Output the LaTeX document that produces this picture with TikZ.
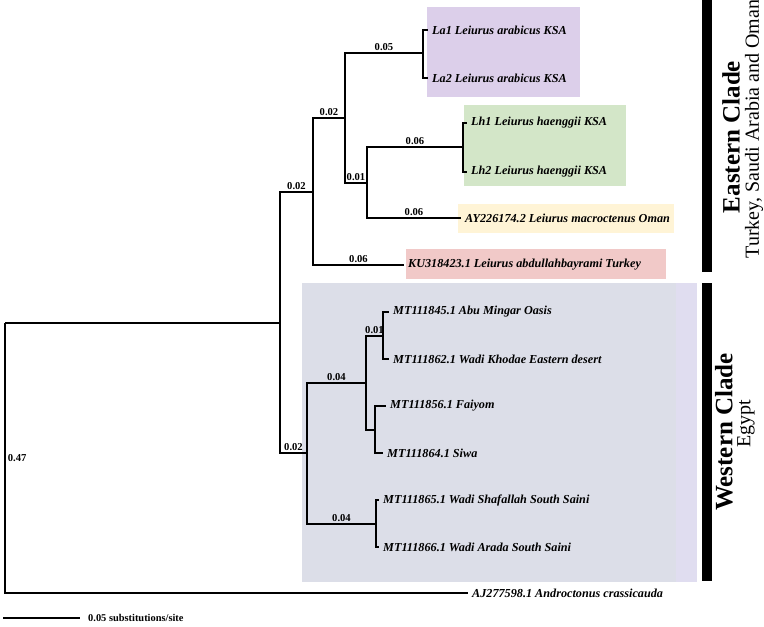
\documentclass[tikz,border=0pt]{standalone}
\usepackage{fontspec}
\setmainfont{Liberation Serif}
\usetikzlibrary{positioning}
\definecolor{lilac}{RGB}{220,207,234}
\definecolor{sage}{RGB}{211,230,200}
\definecolor{cream}{RGB}{255,244,214}
\definecolor{rose}{RGB}{241,201,200}
\definecolor{slate}{RGB}{220,222,232}
\definecolor{slatelav}{RGB}{224,221,240}

\begin{document}
\begin{tikzpicture}[x=1pt,y=-1pt,
  branch/.style={line width=1.6pt},
  leaf/.style={anchor=west,inner xsep=4pt,inner ysep=0pt,font=\fontsize{12.2}{14}\selectfont\bfseries\itshape},
  blen/.style={inner sep=2pt,font=\fontsize{10.6}{12}\selectfont\bfseries},
  barlabel/.style={inner sep=0pt,font=\fontsize{10.4}{12}\selectfont\bfseries},
  clade/.style={rotate=90,inner sep=0pt,font=\fontsize{25}{30}\selectfont\bfseries},
  region/.style={rotate=90,inner sep=0pt,font=\fontsize{20}{24}\selectfont}]
  \useasboundingbox (0,0) rectangle (764,627);

  % shaded groups
  \fill[slate] (302,283) rectangle (697,582);
  \fill[slatelav] (676,283) rectangle (697,582);
  \fill[lilac] (427,7) rectangle (580,97);
  \fill[sage] (464,105) rectangle (626,186);
  \fill[cream] (458,204) rectangle (674,233);
  \fill[rose] (406,249) rectangle (666,279);

  % internal nodes
  \coordinate (root) at (5,323);
  \coordinate (leiurus) at (280,323);
  \coordinate (east) at (313,192);
  \coordinate (arabhaen) at (345,118);
  \coordinate (arab) at (423,53);
  \coordinate (haenmacr) at (367,183);
  \coordinate (haen) at (463,147);
  \coordinate (west) at (307,453);
  \coordinate (westA) at (366,383);
  \coordinate (westAa) at (383,336);
  \coordinate (westAb) at (375,430);
  \coordinate (westB) at (376,524);

  % leaves
  \node[leaf] (La1) at (428,30) {La1 Leiurus arabicus KSA};
  \node[leaf] (La2) at (428,78) {La2 Leiurus arabicus KSA};
  \node[leaf] (Lh1) at (467,123) {Lh1 Leiurus haenggii KSA};
  \node[leaf] (Lh2) at (467,172) {Lh2 Leiurus haenggii KSA};
  \node[leaf] (macro) at (461,218) {AY226174.2 Leiurus macroctenus Oman};
  \node[leaf] (abdul) at (404,265) {KU318423.1 Leiurus abdullahbayrami Turkey};
  \node[leaf] (abu) at (389,312) {MT111845.1 Abu Mingar Oasis};
  \node[leaf] (khodae) at (389,359) {MT111862.1 Wadi Khodae Eastern desert};
  \node[leaf] (faiyom) at (386,406) {MT111856.1 Faiyom};
  \node[leaf] (siwa) at (383,453) {MT111864.1 Siwa};
  \node[leaf] (shafallah) at (379,500) {MT111865.1 Wadi Shafallah South Saini};
  \node[leaf] (arada) at (379,547) {MT111866.1 Wadi Arada South Saini};
  \node[leaf] (andro) at (468,593) {AJ277598.1 Androctonus crassicauda};

  % branches
  \draw[branch] (root) -- (leiurus);
  \draw[branch] (root) |- node[blen,right,pos=0.25] (b047) {0.47} (andro.west);
  \draw[branch] (leiurus) |- node[blen,above,pos=0.75] (bEast) {0.02} (east);
  \draw[branch] (leiurus) |- node[blen,above,pos=0.75] (bWest) {0.02} (west);
  \draw[branch] (east) |- node[blen,above,pos=0.75] (bAH) {0.02} (arabhaen);
  \draw[branch] (east) |- node[blen,above,pos=0.75] (bAbdul) {0.06} (abdul.west);
  \draw[branch] (arabhaen) |- node[blen,above,pos=0.75] (bArab) {0.05} (arab);
  \draw[branch] (arabhaen) |- node[blen,above,pos=0.75] (bHM) {0.01} (haenmacr);
  \draw[branch] (arab) |- (La1.west);
  \draw[branch] (arab) |- (La2.west);
  \draw[branch] (haenmacr) |- node[blen,above,pos=0.75] (bHaen) {0.06} (haen);
  \draw[branch] (haenmacr) |- node[blen,above,pos=0.75] (bMacro) {0.06} (macro.west);
  \draw[branch] (haen) |- (Lh1.west);
  \draw[branch] (haen) |- (Lh2.west);
  \draw[branch] (west) |- node[blen,above,pos=0.75] (bWA) {0.04} (westA);
  \draw[branch] (west) |- node[blen,above,pos=0.75] (bWB) {0.04} (westB);
  \draw[branch] (westA) |- node[blen,above,pos=0.75] (bWAa) {0.01} (westAa);
  \draw[branch] (westA) |- (westAb);
  \draw[branch] (westAa) |- (abu.west);
  \draw[branch] (westAa) |- (khodae.west);
  \draw[branch] (westAb) |- (faiyom.west);
  \draw[branch] (westAb) |- (siwa.west);
  \draw[branch] (westB) |- (shafallah.west);
  \draw[branch] (westB) |- (arada.west);

  % scale bar
  \coordinate (bar0) at (3,618);
  \coordinate (bar1) at (80,618);
  \draw[line width=1.2pt] (bar0) -- (bar1);
  \node[barlabel,right=8pt of bar1] (barlab) {0.05 substitutions/site};

  % clade bars
  \fill (702,0) rectangle (712,272);
  \fill (702,283) rectangle (712,581);
  \node[clade] (eastclade) at (731,137) {Eastern Clade};
  \node[region] (eastregion) at (754,129) {Turkey, Saudi Arabia and Oman};
  \node[clade] (westclade) at (724,432) {Western Clade};
  \node[region] (westregion) at (746,424) {Egypt};
\end{tikzpicture}
\end{document}
